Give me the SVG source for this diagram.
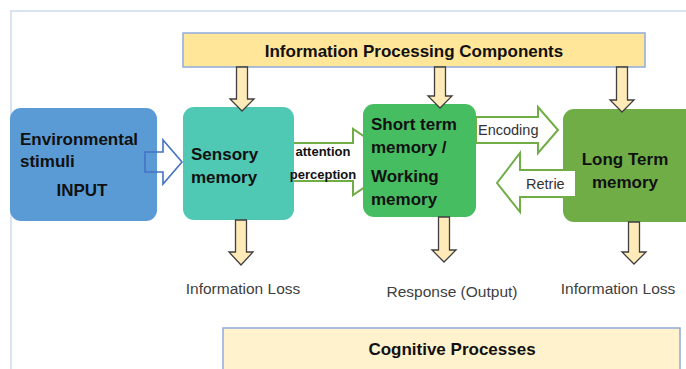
<svg xmlns="http://www.w3.org/2000/svg" width="686" height="369" viewBox="0 0 686 369">
  <style>
    .box-text { font-family: "Liberation Sans", Arial, sans-serif; font-weight: bold; font-size: 17px; fill: #111; }
    .small-bold { font-family: "Liberation Sans", Arial, sans-serif; font-weight: bold; font-size: 13px; fill: #111; }
    .label { font-family: "Liberation Sans", Arial, sans-serif; font-size: 15.5px; fill: #404040; }
    .enc { font-family: "Liberation Sans", Arial, sans-serif; font-size: 14.5px; fill: #333; }
    .banner { fill: #ffe699; stroke: #8faadc; stroke-width: 1.5; }
    .cog { fill: #fff2cc; stroke: #8faadc; stroke-width: 1.5; }
    .down { fill: #ffeab8; stroke: #3f3f3f; stroke-width: 1.3; stroke-linejoin: miter; }
    .hollow-green { fill: none; stroke: #70ad47; stroke-width: 2; }
  </style>

  <rect width="686" height="369" fill="#ffffff"/>
  <!-- outer frame -->
  <path d="M11,369 V11 H686" fill="none" stroke="#dae3f3" stroke-width="2"/>

  <!-- banner -->
  <g id="processing-components">
    <rect class="banner" x="183" y="33" width="462" height="34"/>
    <text class="box-text" x="414" y="57" text-anchor="middle" font-size="18">Information Processing Components</text>
  </g>

  <!-- connectors drawn beneath the nodes -->
  <g id="connectors-under">
    <!-- attention / perception arrow -->
    <path class="hollow-green" d="M279,143 H353 V129 L402,162 L353,195 V181 H279 Z"/>
  </g>

  <g id="environmental-stimuli">
    <rect x="10" y="108" width="147" height="113" rx="11" fill="#5b9bd5"/>
    <text class="box-text" x="20" y="145">Environmental</text>
    <text class="box-text" x="20" y="167">stimuli</text>
    <text class="box-text" x="82" y="196" text-anchor="middle">INPUT</text>
  </g>

  <g id="sensory-memory">
    <rect x="183" y="107" width="111" height="113" rx="11" fill="#4fc8b4"/>
    <text class="box-text" x="191" y="160">Sensory</text>
    <text class="box-text" x="191" y="183">memory</text>
  </g>

  <g id="short-term-memory">
    <rect x="363" y="104" width="113" height="113" rx="11" fill="#46bd60"/>
    <text class="box-text" x="371" y="130">Short term</text>
    <text class="box-text" x="371" y="153">memory /</text>
    <text class="box-text" x="371" y="182">Working</text>
    <text class="box-text" x="371" y="205">memory</text>
  </g>

  <g id="long-term-memory">
    <rect x="563" y="109" width="140" height="113" rx="11" fill="#70ad47"/>
    <text class="box-text" x="625" y="165" text-anchor="middle">Long Term</text>
    <text class="box-text" x="625" y="188" text-anchor="middle">memory</text>
  </g>

  <g id="connectors">
    <!-- input arrow -->
    <path d="M145,152 H163 V140 L182,162 L163,184 V172 H145 Z" fill="none" stroke="#4472c4" stroke-width="1.6"/>
    <text class="small-bold" x="323" y="156" text-anchor="middle">attention</text>
    <text class="small-bold" x="323" y="179" text-anchor="middle">perception</text>

    <!-- encoding arrow -->
    <path d="M476,117 H538 V107 L558,130 L538,153 V143 H476 Z" fill="#ffffff" stroke="#70ad47" stroke-width="2"/>
    <text class="enc" x="478" y="135">Encoding</text>

    <!-- retrieval arrow -->
    <path d="M575,170 H520 V153 L497,183 L520,212 V197 H575 Z" fill="#ffffff"/>
    <path d="M575,170 H520 V153 L497,183 L520,212 V197 H575" class="hollow-green"/>
    <text class="enc" x="526" y="189">Retrie</text>

    <!-- from banner down to components -->
    <path class="down" d="M236.5,67 H247.5 V99 H254 L242,111 L230,99 H236.5 Z"/>
    <path class="down" d="M434.5,67 H445.5 V96 H452 L440,108 L428,96 H434.5 Z"/>
    <path class="down" d="M616.5,67 H627.5 V100 H634 L622,112 L610,100 H616.5 Z"/>

    <!-- outputs below components -->
    <path class="down" d="M235.5,220 H246.5 V252 H253 L241,265 L229,252 H235.5 Z"/>
    <path class="down" d="M438.5,217 H449.5 V250 H456 L444,262 L432,250 H438.5 Z"/>
    <path class="down" d="M628.5,222 H639.5 V252 H646 L634,264 L622,252 H628.5 Z"/>
  </g>

  <g id="output-labels">
    <text class="label" x="243" y="294" text-anchor="middle">Information Loss</text>
    <text class="label" x="452" y="297" text-anchor="middle">Response (Output)</text>
    <text class="label" x="618" y="294" text-anchor="middle">Information Loss</text>
  </g>

  <g id="cognitive-processes">
    <rect class="cog" x="223" y="328" width="457" height="50"/>
    <text class="box-text" x="452" y="355" text-anchor="middle">Cognitive Processes</text>
  </g>
</svg>
